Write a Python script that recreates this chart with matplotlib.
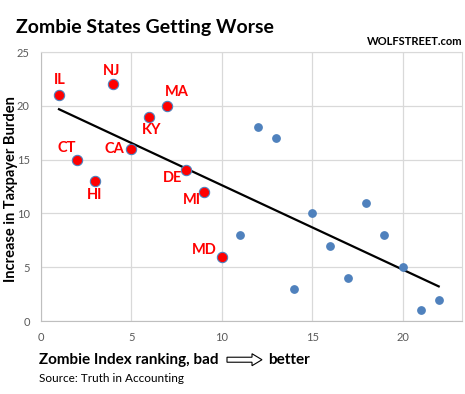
import numpy as np
import matplotlib
matplotlib.use("Agg")
import matplotlib.pyplot as plt
from matplotlib.patches import FancyArrow

plt.rcParams['font.family'] = ['Lato', 'DejaVu Sans']

# labeled "zombie" states (red)
states = ["IL", "CT", "HI", "NJ", "CA", "KY", "MA", "DE", "MI", "MD"]
state_rank = [1, 2, 3, 4, 5, 6, 7, 8, 9, 10]
state_burden = [21, 15, 13, 22, 16, 19, 20, 14, 12, 6]
# label offsets in pixels
label_offsets = [(1, 15), (-10, 12), (-1, -14), (-2, 13), (-17, 0),
                 (2, -13), (9, 14), (-13, -8), (-12, -8), (-17, 7)]

# other states (blue)
other_rank = [11, 12, 13, 14, 15, 16, 17, 18, 19, 20, 21, 22]
other_burden = [8, 18, 17, 3, 10, 7, 4, 11, 8, 5, 1, 2]

x_ticks = [0, 5, 10, 15, 20]
y_ticks = [0, 5, 10, 15, 20, 25]

fig = plt.figure(figsize=(4.65, 3.94), dpi=100)
ax = fig.add_axes([0.088, 0.185, 0.906, 0.683])

# trend line (least squares over all states)
all_x = np.array(state_rank + other_rank)
all_y = np.array(state_burden + other_burden)
slope, intercept = np.polyfit(all_x, all_y, 1)
xs = np.array([all_x.min(), all_x.max()])
ax.plot(xs, slope * xs + intercept, color='black', lw=1.6, zorder=3)

ax.scatter(other_rank, other_burden, s=28, color='#4F81BD', zorder=4)
ax.scatter(state_rank, state_burden, s=55, color='#FF0000',
           edgecolors='#4F81BD', linewidths=0.8, zorder=5)

for name, x, y, off in zip(states, state_rank, state_burden, label_offsets):
    ax.annotate(name, (x, y), xytext=off, textcoords='offset pixels',
                ha='center', va='center', color='#FF0000',
                fontsize=10.5, fontweight='bold', zorder=6)

ax.set_xlim(0, 23.3)
ax.set_ylim(0, 25)
ax.set_xticks(x_ticks)
ax.set_yticks(y_ticks)
ax.grid(True, color='#D9D9D9', lw=0.9)
ax.set_axisbelow(True)
for side in ['top', 'right']:
    ax.spines[side].set_color('#D9D9D9')
for side in ['left', 'bottom']:
    ax.spines[side].set_color('#BFBFBF')
ax.tick_params(length=0, colors='#595959', labelsize=8, pad=8)

fig.text(0.024, 0.52, "Increase in Taxpayer Burden", fontsize=10.5,
         fontweight='bold', rotation=90, ha='center', va='center')

fig.text(0.034, 0.915, "Zombie States Getting Worse", fontsize=14,
         fontweight='bold')
fig.text(0.994, 0.885, "WOLFSTREET.com", fontsize=8, fontweight='bold',
         ha='right')

fig.text(0.084, 0.087, "Zombie Index ranking, bad", fontsize=11,
         fontweight='bold', va='center')
fig.text(0.576, 0.087, "better", fontsize=11, fontweight='bold', va='center')
arrow = FancyArrow(227 / 465, 0.087, 35 / 465, 0, width=5 / 394,
                   head_width=12 / 394, head_length=10 / 465,
                   length_includes_head=True, facecolor='white',
                   edgecolor='black', lw=0.8, transform=fig.transFigure)
fig.add_artist(arrow)
fig.text(0.084, 0.04, "Source: Truth in Accounting", fontsize=8.5,
         va='center')

fig.savefig("out.png", dpi=100)
